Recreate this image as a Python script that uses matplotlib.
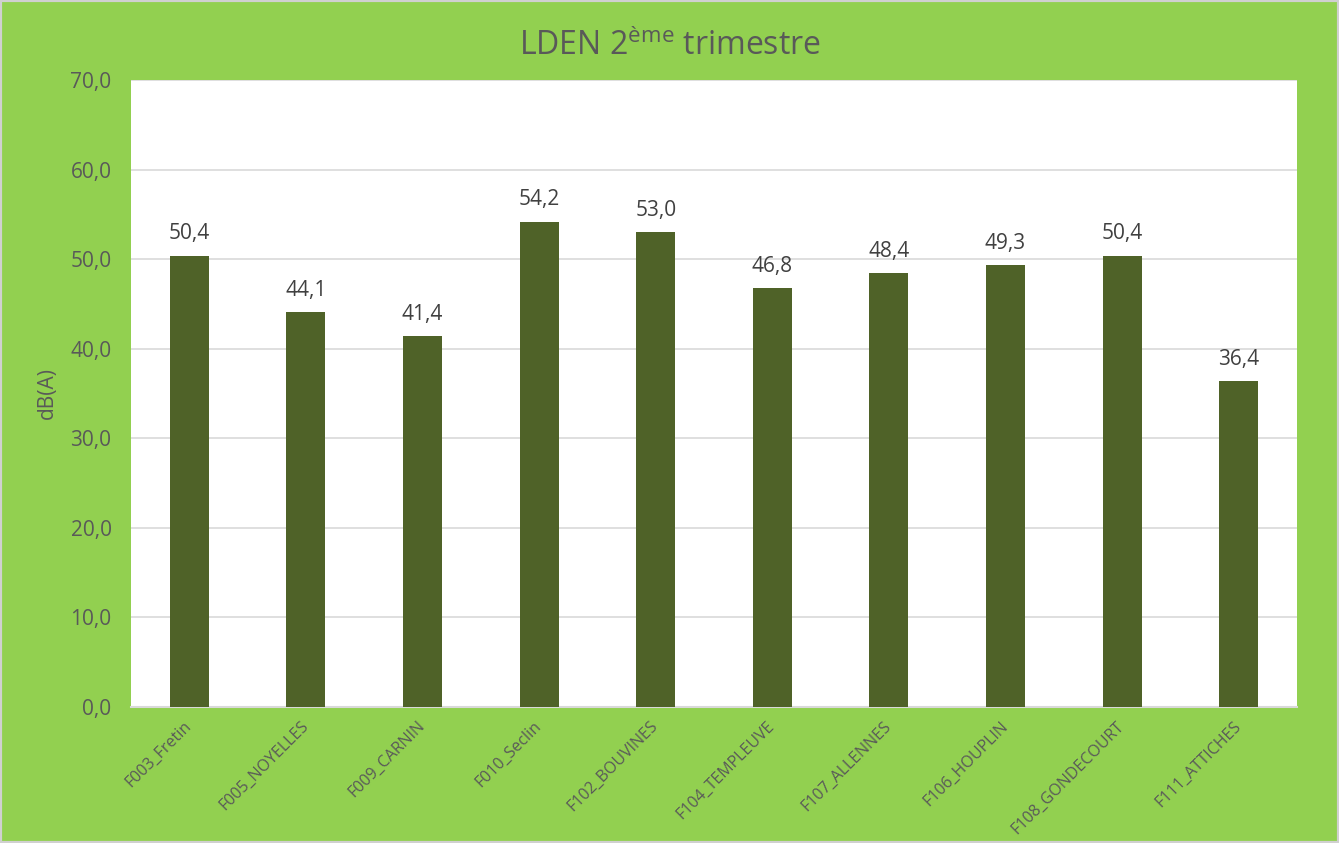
import matplotlib
matplotlib.use("Agg")
import matplotlib.pyplot as plt
from matplotlib.patches import Rectangle

categories = ["F003_Fretin", "F005_NOYELLES", "F009_CARNIN", "F010_Seclin", "F102_BOUVINES",
              "F104_TEMPLEUVE", "F107_ALLENNES", "F106_HOUPLIN", "F108_GONDECOURT", "F111_ATTICHES"]
values = [50.4, 44.1, 41.4, 54.2, 53.0, 46.8, 48.4, 49.3, 50.4, 36.4]
yticks = [0, 10, 20, 30, 40, 50, 60, 70]

plt.rcParams['font.family'] = ['Open Sans', 'DejaVu Sans']
green = '#92D050'
bar_color = '#4F6228'
text_color = '#595959'

fig = plt.figure(figsize=(13.39, 8.43), dpi=100, facecolor=green)
fig.patches.append(Rectangle((0, 0), 1, 1, transform=fig.transFigure, fill=False,
                             edgecolor='#D0D0D0', linewidth=3, zorder=10))
ax = fig.add_axes([131/1339, 1-707/843, (1297-131)/1339, (707-80)/843])
ax.set_facecolor('white')
x = range(len(categories))
ax.bar(x, values, width=0.335, color=bar_color, zorder=3)
ax.set_xlim(-0.5, len(categories)-0.5)
ax.set_ylim(0, 70)
ax.set_yticks(yticks)
ax.set_yticklabels([f"{v:.1f}".replace('.', ',') for v in yticks], fontsize=15, color=text_color)
ax.set_xticks(list(x))
ax.set_xticklabels(categories, rotation=45, ha='right', va='center', rotation_mode='anchor',
                   fontsize=11.5, color=text_color)
ax.tick_params(axis='both', length=0)
ax.tick_params(axis='y', pad=14)
ax.tick_params(axis='x', pad=12)
ax.grid(axis='y', color='#D9D9D9', linewidth=1.2, zorder=0)
for s in ['top', 'right', 'left']:
    ax.spines[s].set_visible(False)
ax.spines['bottom'].set_color('#D9D9D9')
ax.spines['bottom'].set_linewidth(1.5)
for xi, v in zip(x, values):
    ax.annotate(f"{v:.1f}".replace('.', ','), (xi, v), xytext=(0, 8), textcoords='offset points',
                ha='center', va='bottom', fontsize=15, color='#404040')
ax.set_ylabel('dB(A)', fontsize=15, color=text_color, labelpad=9)
fig.text(0.5, 1-46/843, r'LDEN 2$^{\mathregular{ème}}$ trimestre', ha='center', va='center',
         fontsize=23, color=text_color)
fig.savefig('out.png', dpi=100, facecolor=green)
